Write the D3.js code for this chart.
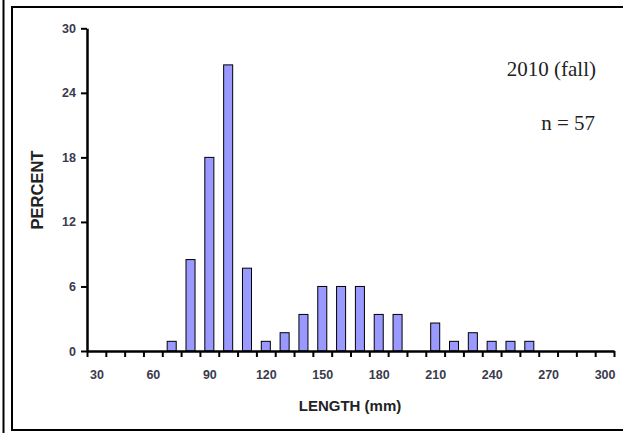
<!DOCTYPE html>
<html>
<head>
<meta charset="utf-8">
<script src="https://cdn.jsdelivr.net/npm/d3@7/dist/d3.min.js"></script>
<style>
  html, body { margin: 0; padding: 0; background: #fff; }
  svg { display: block; }
</style>
</head>
<body>
<svg id="chart" width="623" height="433"></svg>
<script>
// Length-frequency histogram, 10 mm length classes
const lengthClasses = [30, 40, 50, 60, 70, 80, 90, 100, 110, 120, 130, 140, 150, 160, 170, 180, 190, 200, 210, 220, 230, 240, 250, 260, 270, 280, 290, 300];
const percentValues = [0, 0, 0, 0, 0.9, 8.5, 18.0, 26.6, 7.7, 0.9, 1.7, 3.4, 6.0, 6.0, 6.0, 3.4, 3.4, 0, 2.6, 0.9, 1.7, 0.9, 0.9, 0.9, 0, 0, 0, 0];
const yTicks = [0, 6, 12, 18, 24, 30];
const xTickLabels = [30, 60, 90, 120, 150, 180, 210, 240, 270, 300];
const titleText = "2010 (fall)";
const sampleText = "n = 57";

const svg = d3.select("#chart");

// Outer frame lines
svg.append("line")
  .attr("x1", 3.5).attr("x2", 3.5).attr("y1", 0).attr("y2", 433)
  .attr("stroke", "#000").attr("stroke-width", 2);
svg.append("rect")
  .attr("x", 12).attr("y", 7).attr("width", 620).attr("height", 423)
  .attr("fill", "none").attr("stroke", "#000").attr("stroke-width", 2);

const plotLeft = 87, plotRight = 614, plotTop = 28.3, plotBottom = 351;

const x = d3.scaleLinear().domain([25, 305]).range([plotLeft, plotRight]);
const y = d3.scaleLinear().domain([0, 30]).range([plotBottom, plotTop]);

const labelColor = "#3a3a4c";
const tickFont = "bold 12.5px Arial, 'Liberation Sans', sans-serif";

// Bars
const halfWidth = 2.4;
svg.append("g").selectAll("rect")
  .data(lengthClasses.map((c, i) => ({ c, v: percentValues[i] })).filter(d => d.v > 0))
  .join("rect")
  .attr("x", d => x(d.c - halfWidth))
  .attr("width", d => x(d.c + halfWidth) - x(d.c - halfWidth))
  .attr("y", d => y(d.v))
  .attr("height", d => y(0) - y(d.v))
  .attr("fill", "#9999ff")
  .attr("stroke", "#000")
  .attr("stroke-width", 1);

// Y axis
const yAxis = svg.append("g")
  .attr("transform", `translate(${plotLeft},0)`)
  .call(d3.axisLeft(y).tickValues(yTicks).tickSize(6).tickSizeOuter(0).tickPadding(5));
yAxis.select(".domain").attr("stroke-width", 2.5);
yAxis.selectAll(".tick line").attr("stroke-width", 2);
yAxis.selectAll("text").style("font", tickFont).attr("fill", labelColor);

// X axis: tick marks at class boundaries
const xAxis = svg.append("g")
  .attr("transform", `translate(0,${plotBottom})`)
  .call(d3.axisBottom(x)
    .tickValues(d3.range(25, 306, 10))
    .tickFormat("")
    .tickSize(6)
    .tickSizeOuter(0));
xAxis.select(".domain").attr("stroke-width", 2.5);
xAxis.selectAll(".tick line").attr("stroke-width", 2);

// X axis labels at every third class
const xLabels = svg.append("g")
  .attr("transform", `translate(0,${plotBottom})`)
  .call(d3.axisBottom(x).tickValues(xTickLabels).tickSize(0).tickPadding(19));
xLabels.select(".domain").remove();
xLabels.selectAll("text").style("font", tickFont).attr("fill", labelColor);

// Axis titles
svg.append("text")
  .attr("x", 350).attr("y", 411)
  .attr("text-anchor", "middle")
  .style("font", "bold 15px Arial, 'Liberation Sans', sans-serif")
  .attr("fill", "#222")
  .text("LENGTH (mm)");

svg.append("text")
  .attr("transform", "translate(43,190) rotate(-90)")
  .attr("text-anchor", "middle")
  .style("font", "bold 16.5px Arial, 'Liberation Sans', sans-serif")
  .attr("fill", "#222")
  .text("PERCENT");

// Annotations
svg.append("text")
  .attr("x", 596).attr("y", 76)
  .attr("text-anchor", "end")
  .style("font", "21px 'Times New Roman', 'Liberation Serif', serif")
  .attr("fill", "#222")
  .text(titleText);

svg.append("text")
  .attr("x", 595).attr("y", 130)
  .attr("text-anchor", "end")
  .style("font", "21px 'Times New Roman', 'Liberation Serif', serif")
  .attr("fill", "#222")
  .text(sampleText);
</script>
</body>
</html>
